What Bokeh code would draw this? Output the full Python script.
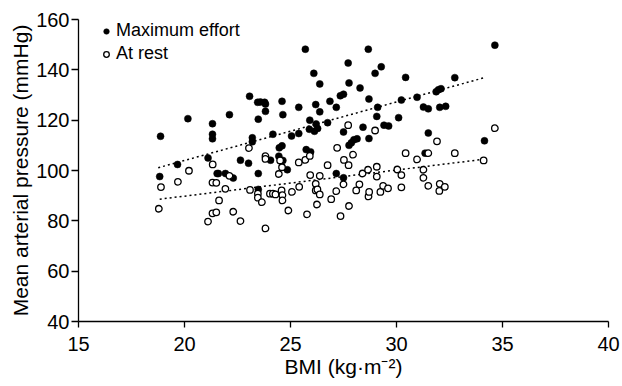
from bokeh.plotting import figure
from bokeh.models import Range1d, FixedTicker, Legend, LegendItem
from bokeh.embed import file_html
from bokeh.resources import INLINE

# ---- data ----
max_bmi = [18.83, 18.87, 19.67, 20.16, 21.11, 21.32, 21.32, 21.32, 21.54, 21.60, 21.93, 22.12, 22.30, 22.64,
           23.02, 23.07, 23.20, 23.20, 23.45, 23.48, 23.48, 23.48, 23.58, 23.78, 23.82, 23.82, 24.06, 24.17,
           24.45, 24.47, 24.60, 24.60, 24.64, 24.64, 24.85, 25.05, 25.39, 25.39, 25.70, 25.74, 25.89, 25.91,
           25.95, 26.10, 26.13, 26.19, 26.21, 26.28, 26.38, 26.38, 26.75, 26.86, 27.16, 27.16, 27.35, 27.50,
           27.50, 27.50, 27.72, 27.76, 27.76, 27.87, 27.99, 28.14, 28.28, 28.42, 28.67, 28.70, 28.70, 28.99,
           29.07, 29.11, 29.28, 29.41, 29.63, 30.10, 30.23, 30.43, 30.97, 31.27, 31.35, 31.50, 31.50, 31.87,
           31.98, 32.10, 32.04, 32.32, 32.75, 34.15, 34.64]
max_map = [97.6, 113.6, 102.4, 120.6, 105.0, 118.6, 114.4, 112.6, 98.8, 98.8, 98.8, 122.2, 97.0, 104.1,
           102.9, 129.5, 113.0, 111.4, 127.1, 120.4, 98.8, 92.5, 127.2, 127.1, 123.5, 126.4, 104.1, 114.4,
           105.7, 109.0, 109.8, 127.5, 122.2, 104.0, 100.3, 113.7, 125.1, 114.7, 148.2, 108.3, 116.4, 120.0,
           107.4, 138.6, 115.6, 126.2, 118.5, 116.7, 134.4, 123.3, 119.0, 127.5, 125.1, 98.8, 129.7, 130.3,
           115.3, 97.1, 142.7, 134.8, 110.0, 111.0, 112.2, 112.6, 132.8, 117.2, 148.2, 128.4, 112.7, 138.6,
           121.5, 125.1, 141.2, 118.0, 117.7, 121.0, 128.0, 137.0, 129.1, 125.2, 106.9, 124.5, 114.9, 131.3,
           132.1, 132.5, 125.1, 125.5, 136.9, 111.8, 149.8]

rest_bmi = [18.79, 18.89, 19.69, 20.21, 21.11, 21.33, 21.32, 21.50, 21.32, 21.50, 21.63, 21.93, 22.12, 22.64,
            22.30, 23.04, 23.09, 23.46, 23.46, 23.65, 23.82, 23.82, 23.82, 24.03, 24.17, 24.29, 24.45, 24.51,
            24.60, 24.58, 24.62, 24.62, 24.90, 25.07, 25.39, 25.41, 25.70, 25.78, 25.91, 25.93, 26.19, 26.19,
            26.27, 26.38, 26.38, 26.25, 26.75, 26.92, 27.20, 27.16, 27.36, 27.50, 27.52, 27.72, 27.74, 27.76,
            27.95, 28.10, 28.25, 28.40, 28.66, 28.68, 28.71, 28.99, 29.07, 29.07, 29.24, 29.37, 29.60, 30.04,
            30.23, 30.23, 30.43, 30.97, 31.27, 31.27, 31.50, 31.50, 31.91, 32.04, 32.02, 32.28, 32.75, 34.11,
            34.64]
rest_map = [84.8, 93.4, 95.5, 99.9, 79.7, 102.4, 95.2, 95.1, 83.0, 83.4, 88.1, 92.7, 97.9, 79.9,
            83.6, 108.9, 92.3, 90.8, 89.2, 87.4, 77.0, 105.7, 104.6, 90.8, 90.8, 90.5, 98.6, 104.0,
            101.3, 92.1, 90.2, 88.1, 84.1, 91.5, 103.2, 93.5, 104.2, 82.6, 105.8, 98.2, 94.7, 92.1,
            92.5, 90.5, 97.9, 86.5, 102.1, 88.6, 109.0, 91.8, 81.9, 94.5, 104.2, 118.0, 102.1, 85.9,
            106.3, 92.1, 94.5, 98.8, 100.3, 89.7, 91.5, 115.9, 101.5, 97.6, 91.5, 93.9, 92.9, 100.4,
            98.2, 93.3, 106.9, 104.4, 100.3, 97.1, 106.9, 93.9, 111.6, 94.7, 91.9, 93.5, 106.9, 104.0,
            116.8]

# regression lines as drawn in the reference
max_fit_x = [18.76, 34.15]
max_fit_y = [101.1, 136.9]
rest_fit_x = [18.83, 34.15]
rest_fit_y = [88.6, 104.5]

x_ticks = [15, 20, 25, 30, 35, 40]
y_ticks = [40, 60, 80, 100, 120, 140, 160]

FONT = "Liberation Sans"

p = figure(width=622, height=386, output_backend="svg", toolbar_location=None,
           x_range=Range1d(15, 40), y_range=Range1d(40, 160),
           min_border_left=78, min_border_right=14, min_border_top=19, min_border_bottom=65)
p.outline_line_color = None
p.grid.visible = False
p.background_fill_color = "white"
p.border_fill_color = "white"

for ax in (p.xaxis[0], p.yaxis[0]):
    ax.axis_line_color = "black"
    ax.axis_line_width = 1.3
    ax.major_tick_line_color = "black"
    ax.major_tick_line_width = 1.3
    ax.major_tick_in = 0
    ax.minor_tick_line_color = None
    ax.major_label_text_font = FONT
    ax.major_label_text_font_size = "20px"
    ax.major_label_text_color = "black"
    ax.axis_label_text_font = FONT
    ax.axis_label_text_font_size = "21px"
    ax.axis_label_text_font_style = "normal"
    ax.axis_label_text_color = "black"

p.xaxis[0].major_tick_out = 6
p.yaxis[0].major_tick_out = 7
p.xaxis[0].ticker = FixedTicker(ticks=x_ticks)
p.yaxis[0].ticker = FixedTicker(ticks=y_ticks)
p.xaxis[0].axis_label = "BMI (kg·m⁻²)"
p.yaxis[0].axis_label = "Mean arterial pressure (mmHg)"
p.xaxis[0].major_label_standoff = 9
p.yaxis[0].major_label_standoff = 2
p.xaxis[0].axis_label_standoff = 1
p.yaxis[0].axis_label_standoff = 1

p.line(max_fit_x, max_fit_y, line_color="black", line_width=1.5, line_dash="2 3")
p.line(rest_fit_x, rest_fit_y, line_color="black", line_width=1.5, line_dash="2 3")

r_max = p.scatter(max_bmi, max_map, marker="circle", size=7, fill_color="black", line_color="black",
                  line_width=0.5)
r_rest = p.scatter(rest_bmi, rest_map, marker="circle", size=6.5, fill_color="white", line_color="black",
                   line_width=1.3)

legend = Legend(items=[LegendItem(label="Maximum effort", renderers=[r_max]),
                       LegendItem(label="At rest", renderers=[r_rest])],
                location=(21, 257))
legend.background_fill_alpha = 0
legend.border_line_color = None
legend.padding = 0
legend.margin = 0
legend.spacing = 2
legend.glyph_width = 14
legend.glyph_height = 14
legend.label_height = 20
legend.label_standoff = 3
legend.label_text_font = FONT
legend.label_text_font_size = "18px"
legend.label_text_color = "black"
p.add_layout(legend)

open("out.html", "w").write(file_html(p, INLINE))
